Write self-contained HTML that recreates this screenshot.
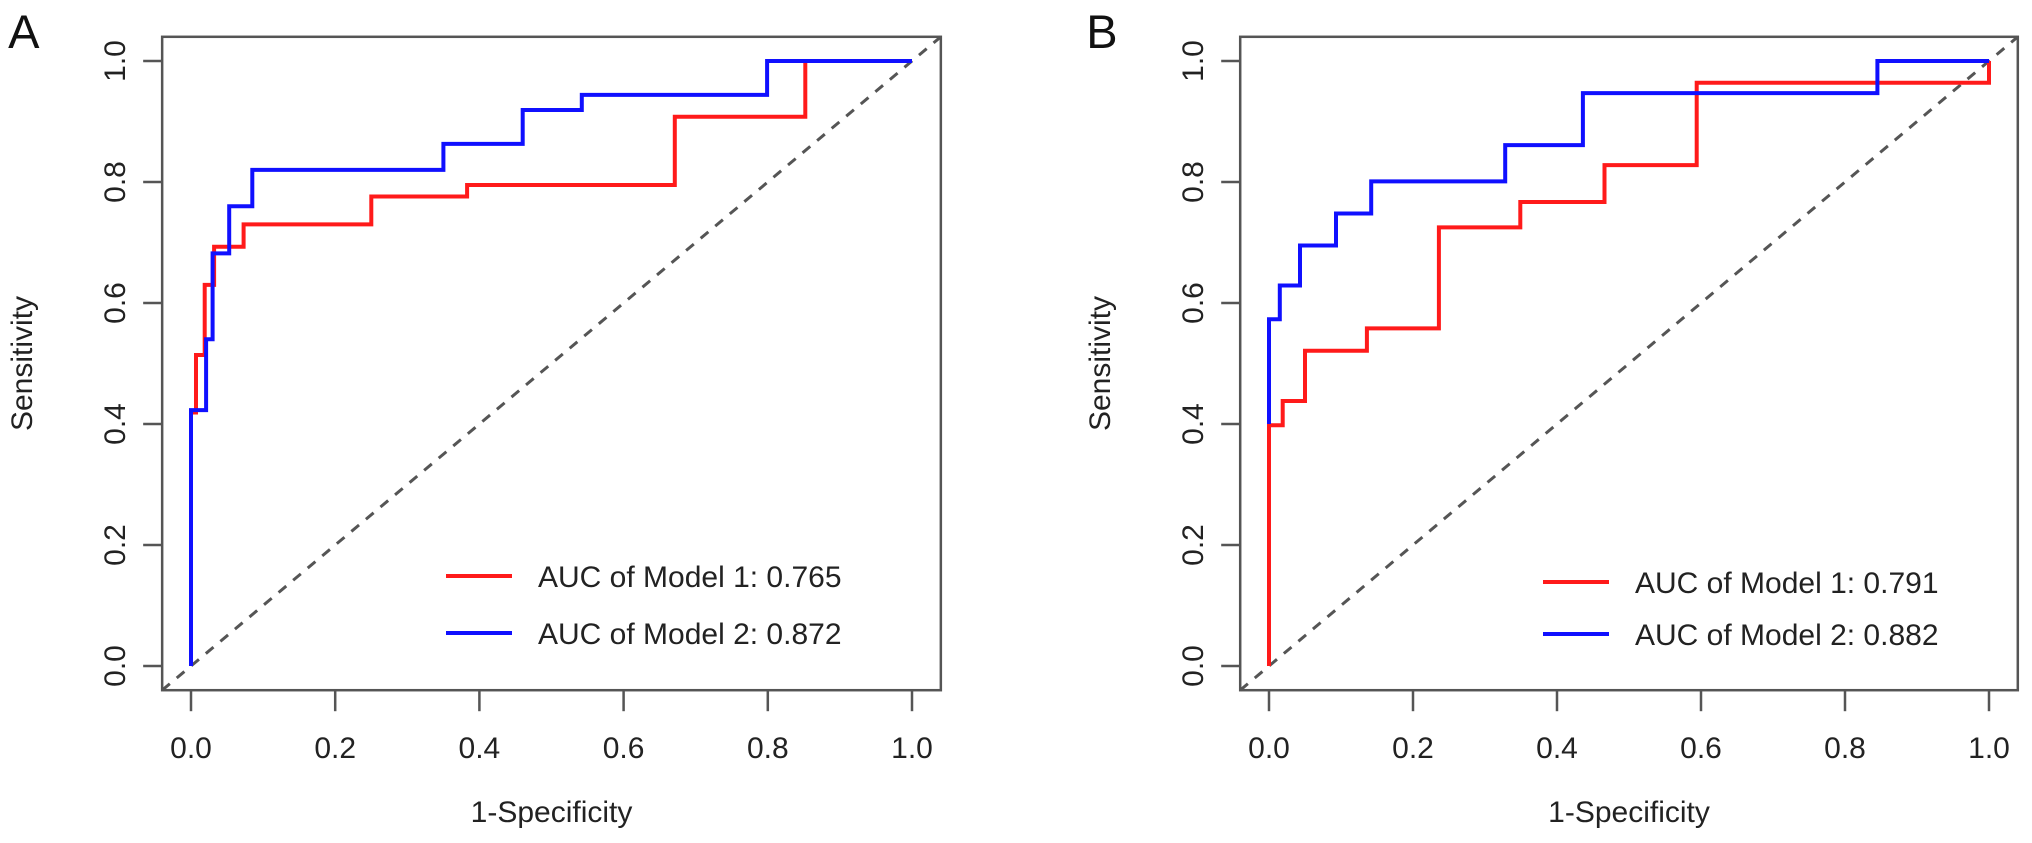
<!DOCTYPE html>
<html><head><meta charset="utf-8"><style>
html,body{margin:0;padding:0;background:#fff;}
svg{display:block;font-family:"Liberation Sans",Arial,sans-serif;}
</style></head><body>
<svg id="fig" width="2032" height="843" viewBox="0 0 2032 843"></svg>
<script>
const ticks = [0, 0.2, 0.4, 0.6, 0.8, 1.0];
const tickLabels = ["0.0","0.2","0.4","0.6","0.8","1.0"];
// Panel A step points (fpr, tpr)
const aModel1X = [0,0,0.007,0.007,0.019,0.019,0.032,0.032,0.073,0.073,0.25,0.25,0.383,0.383,0.671,0.671,0.852,0.852,1.0];
const aModel1Y = [0,0.419,0.419,0.514,0.514,0.630,0.630,0.693,0.693,0.730,0.730,0.776,0.776,0.795,0.795,0.908,0.908,1.0,1.0];
const aModel2X = [0,0,0.021,0.021,0.030,0.030,0.053,0.053,0.085,0.085,0.35,0.35,0.46,0.46,0.542,0.542,0.799,0.799,1.0];
const aModel2Y = [0,0.423,0.423,0.54,0.54,0.682,0.682,0.760,0.760,0.820,0.820,0.863,0.863,0.919,0.919,0.944,0.944,1.0,1.0];
// Panel B
const bModel1X = [0,0,0.019,0.019,0.050,0.050,0.136,0.136,0.236,0.236,0.349,0.349,0.466,0.466,0.594,0.594,1.0,1.0];
const bModel1Y = [0,0.398,0.398,0.438,0.438,0.521,0.521,0.558,0.558,0.725,0.725,0.767,0.767,0.828,0.828,0.964,0.964,1.0];
const bModel2X = [0,0,0.015,0.015,0.043,0.043,0.093,0.093,0.142,0.142,0.328,0.328,0.436,0.436,0.845,0.845,1.0];
const bModel2Y = [0.4,0.573,0.573,0.629,0.629,0.695,0.695,0.748,0.748,0.801,0.801,0.861,0.861,0.947,0.947,1.0,1.0];
const aucA = ["AUC of Model 1: 0.765","AUC of Model 2: 0.872"];
const aucB = ["AUC of Model 1: 0.791","AUC of Model 2: 0.882"];

const NS="http://www.w3.org/2000/svg";
const svg=document.getElementById('fig');
function mk(tag,attrs,parent){const e=document.createElementNS(NS,tag);for(const k in attrs)e.setAttribute(k,attrs[k]);(parent||svg).appendChild(e);return e;}

function panel(opt){
  const g=mk('g',{});
  
  
  const x0=opt.x0, unit=opt.unit, y0=666, yunit=605;
  const sx=v=>x0+unit*v, sy=v=>y0-yunit*v;
  const L=sx(-0.04), R=sx(1.04), T=sy(1.04), B=sy(-0.04);
  // diagonal
  const d=mk('line',{x1:L,y1:B,x2:R,y2:T,stroke:'#555','stroke-width':3,'stroke-dasharray':'10,9'},g);
  
  
  function curve(xs,ys,color,nm){
    let p='';for(let i=0;i<xs.length;i++)p+=(i?'L':'M')+sx(xs[i]).toFixed(1)+' '+sy(ys[i]).toFixed(1);
    const e=mk('path',{d:p,fill:'none',stroke:color,'stroke-width':4},g);
    
    
  }
  curve(opt.m1x,opt.m1y,'#ff1a1a','model-1-roc-curve');
  curve(opt.m2x,opt.m2y,'#1010ff','model-2-roc-curve');
  const box=mk('rect',{x:L,y:T,width:R-L,height:B-T,fill:'none',stroke:'#555','stroke-width':2.5},g);
  
  
  ticks.forEach((t,i)=>{
    mk('line',{x1:sx(t),y1:B,x2:sx(t),y2:B+21,stroke:'#555','stroke-width':2.5},g);
    const tx=mk('text',{x:sx(t),y:758,'font-size':30,'text-anchor':'middle',fill:'#222'},g);
    tx.textContent=tickLabels[i];
    
    
    mk('line',{x1:L,y1:sy(t),x2:L-19,y2:sy(t),stroke:'#555','stroke-width':2.5},g);
    const ty=mk('text',{x:0,y:0,'font-size':30,'text-anchor':'middle',fill:'#222',transform:`translate(${L-37},${sy(t)}) rotate(-90)`},g);
    ty.textContent=tickLabels[i];
    
    
  });
  const xt=mk('text',{x:(sx(0)+sx(1))/2,y:822,'font-size':30,'text-anchor':'middle',fill:'#222'},g);
  xt.textContent='1-Specificity';
  
  
  const yt=mk('text',{x:0,y:0,'font-size':30,'text-anchor':'middle',fill:'#222',transform:`translate(${L-130},${sy(0.5)}) rotate(-90)`},g);
  yt.textContent='Sensitivity';
  
  
  const lt=mk('text',{x:L-154,y:48,'font-size':47,fill:'#111'},g);
  lt.textContent=opt.letter;
  
  
  const cols=['#ff1a1a','#1010ff'];
  opt.leg.forEach((s,i)=>{
    const y=opt.legY[i];
    const ll=mk('line',{x1:opt.legX,y1:y,x2:opt.legX+66,y2:y,stroke:cols[i],'stroke-width':4},g);
    
    
    const te=mk('text',{x:opt.legX+92,y:y+11,'font-size':30,fill:'#222'},g);
    te.textContent=s;
    
    
  });
}
panel({name:'panel-a',letter:'A',x0:191,unit:721,m1x:aModel1X,m1y:aModel1Y,m2x:aModel2X,m2y:aModel2Y,leg:aucA,legX:446,legY:[576,633]});
panel({name:'panel-b',letter:'B',x0:1269,unit:720,m1x:bModel1X,m1y:bModel1Y,m2x:bModel2X,m2y:bModel2Y,leg:aucB,legX:1543,legY:[582,634]});
</script>
</body></html>
